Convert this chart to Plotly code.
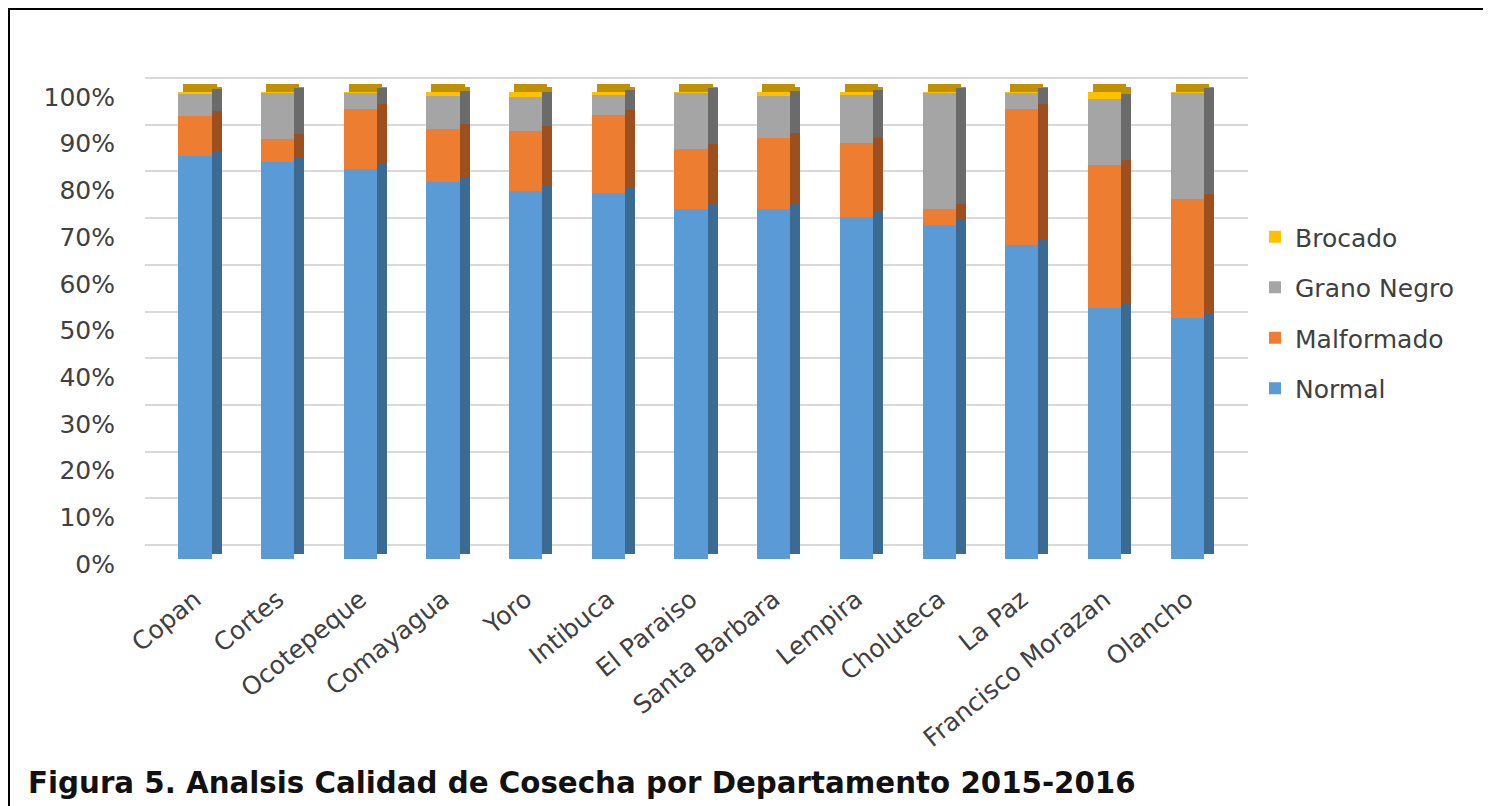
import plotly.graph_objects as go

categories = ["Copan", "Cortes", "Ocotepeque", "Comayagua", "Yoro", "Intibuca",
              "El Paraiso", "Santa Barbara", "Lempira", "Choluteca", "La Paz",
              "Francisco Morazan", "Olancho"]
normal = [86.4, 85.1, 83.6, 80.8, 78.8, 78.3, 74.9, 74.9, 73.2, 71.5, 67.2, 53.7, 51.6]
malformado = [8.5, 4.8, 12.8, 11.3, 12.8, 16.7, 12.8, 15.3, 15.9, 3.4, 29.2, 30.6, 25.5]
grano_negro = [4.6, 9.9, 3.4, 7.0, 7.3, 4.4, 12.1, 8.9, 10.2, 24.9, 3.4, 14.1, 22.7]
brocado = [0.5, 0.2, 0.2, 0.9, 1.1, 0.6, 0.2, 0.9, 0.7, 0.2, 0.2, 1.6, 0.2]
y_ticks = [0, 10, 20, 30, 40, 50, 60, 70, 80, 90, 100]
y_ticklabels = [f"{v}%" for v in y_ticks]
title_text = "Figura 5. Analsis Calidad de Cosecha por Departamento 2015-2016"

series = [
    ("Normal", normal, "#5B9BD5", "#3B6A93"),
    ("Malformado", malformado, "#ED7D31", "#9E4F1E"),
    ("Grano Negro", grano_negro, "#A5A5A5", "#6B6B6B"),
    ("Brocado", brocado, "#FFC000", "#BF9000"),
]

# page is rendered with an 8px body margin
OFF = 8
W, H = 1491 - OFF, 806 - OFF
PL, PR, PT, PB = 145, 1248, 73, 559          # plot area in page pixels
L, R, T, B = PL - OFF, W - (PR - OFF), PT - OFF, H - (PB - OFF)
plot_w = PR - PL
plot_h = PB - PT
step = 82.67            # px per category
px_per_unit = 4.67      # px per percent (front face)
x_min = -50 / step
x_max = x_min + plot_w / step
y_top = plot_h / px_per_unit
grid_shift = 14 / px_per_unit
side_shift = 5 / px_per_unit
front_w = 0.40
side_w = 10 / step


def cx(page_x):
    return (page_x - OFF) / W


def cy(page_y):
    return (H - (page_y - OFF)) / H


totals = [sum(v) for v in zip(normal, malformado, grano_negro, brocado)]
FONT = "DejaVu Sans, Open Sans, sans-serif"

fig = go.Figure()
# side faces (depth)
for name, vals, col, dark in series:
    fig.add_trace(go.Bar(x=categories, y=vals, marker=dict(color=dark, line=dict(width=0)),
                         width=side_w, offset=front_w / 2, xaxis="x2", yaxis="y2",
                         showlegend=False, hoverinfo="skip"))
# top cap
fig.add_trace(go.Bar(x=categories, y=[8 / px_per_unit] * len(categories), base=totals,
                     marker=dict(color="#BF9000", line=dict(width=0)),
                     width=front_w, offset=-front_w / 2 + 5 / step, xaxis="x2", yaxis="y",
                     showlegend=False, hoverinfo="skip"))
# front faces
n_series = len(series)
for i, (name, vals, col, dark) in enumerate(series):
    fig.add_trace(go.Bar(x=categories, y=vals, name=name, legendgroup=name,
                         legendrank=n_series - i,
                         marker=dict(color=col, line=dict(width=0)),
                         width=front_w, xaxis="x", yaxis="y"))
# grid carrier (invisible)
fig.add_trace(go.Scatter(x=categories[:1], y=[0], mode="markers", marker=dict(opacity=0),
                         xaxis="x", yaxis="y3", showlegend=False, hoverinfo="skip"))

fig.update_layout(
    width=W, height=H,
    margin=dict(l=L, r=R, t=T, b=B, autoexpand=False),
    paper_bgcolor="white", plot_bgcolor="white",
    barmode="stack", bargap=0,
    font=dict(family=FONT, color="#404040"),
    xaxis=dict(type="category", range=[x_min, x_max], tickangle=-39,
               tickfont=dict(size=25, color="#404040"), showgrid=False,
               showline=False, zeroline=False, ticks="", ticklabelstandoff=20,
               automargin=False),
    xaxis2=dict(type="category", overlaying="x", matches="x", range=[x_min, x_max],
                visible=False),
    yaxis=dict(range=[0, y_top], tickvals=y_ticks, ticktext=y_ticklabels,
               tickfont=dict(size=25, color="#404040"), showgrid=False,
               zeroline=False, showline=False, ticks="", ticklabelstandoff=29,
               ticklabelshift=5, automargin=False),
    yaxis2=dict(range=[-side_shift, y_top - side_shift], overlaying="y", visible=False),
    yaxis3=dict(range=[-grid_shift, y_top - grid_shift], overlaying="y",
                tickvals=y_ticks, showticklabels=False, showgrid=True,
                gridcolor="#D9D9D9", gridwidth=1.5, zeroline=False, showline=False),
    legend=dict(xref="container", yref="container", x=cx(1255), y=cy(214),
                xanchor="left", yanchor="top", traceorder="grouped",
                font=dict(size=25, color="#404040"), tracegroupgap=15,
                itemwidth=30, bgcolor="rgba(0,0,0,0)"),
    title=dict(text=title_text, xref="container", yref="container",
               x=cx(28), y=cy(783), xanchor="left", yanchor="middle",
               font=dict(size=29.3, color="#111111", family=FONT, weight="bold")),
    shapes=[
        dict(type="rect", xref="paper", yref="paper",
             x0=(9 - PL) / plot_w, x1=(1486 - PL) / plot_w,
             y0=-(830 - PB) / plot_h, y1=(PB - 9) / plot_h,
             line=dict(color="black", width=2), fillcolor="rgba(0,0,0,0)", layer="above"),
    ],
)

fig.write_html("out.html")
